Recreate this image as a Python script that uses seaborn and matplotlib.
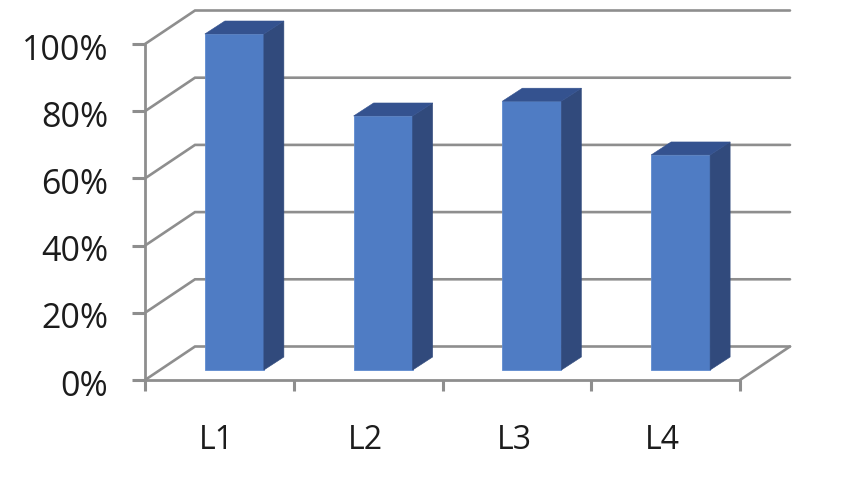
import matplotlib
matplotlib.use("Agg")
import matplotlib.pyplot as plt
from matplotlib.patches import Polygon
from matplotlib.transforms import Affine2D
import seaborn as sns
import pandas as pd

categories = ["L1", "L2", "L3", "L4"]
values = [100, 75.6, 80, 64]
y_ticks = [0, 20, 40, 60, 80, 100]
y_labels = ["0%", "20%", "40%", "60%", "80%", "100%"]

W, H = 843, 482
L, R, B, T = 145, 740, 380, 44
px_x = (R - L) / 4
px_y = (B - T) / 100
WALL_X, WALL_Y = 50 / px_x, 33.5 / px_y
BAR_OFF_X, BAR_OFF_Y = 15 / px_x, 10 / px_y
BAR_DEPTH_X, BAR_DEPTH_Y = 20 / px_x, 13 / px_y
BAR_W = 59 / px_x
GREY = "#8e8e8e"
FRONT, SIDE, TOP = "#4f7cc4", "#314a7c", "#34528f"

sns.set_theme(style="white")
plt.rcParams["font.family"] = ["Open Sans", "DejaVu Sans"]

fig = plt.figure(figsize=(W / 100, H / 100), dpi=100, facecolor="white")
ax = fig.add_axes([L / W, 1 - B / H, (R - L) / W, (B - T) / H])
ax.patch.set_visible(False)

df = pd.DataFrame({"level": categories, "share": values})
sns.barplot(data=df, x="level", y="share", color=FRONT, saturation=1, width=BAR_W, ax=ax, zorder=3)
shift = Affine2D().translate(BAR_OFF_X, BAR_OFF_Y) + ax.transData
for p in ax.patches:
    p.set_transform(shift)
    p.set_clip_on(False)
    p.set_edgecolor("#5f8bd0")
    p.set_linewidth(0.6)

ax.set_xlim(-0.5, 3.5)
ax.set_ylim(0, 100)

for i, v in enumerate(values):
    xl = i - BAR_W / 2
    xr = i + BAR_W / 2
    side = [(xr, 0), (xr + BAR_DEPTH_X, BAR_DEPTH_Y), (xr + BAR_DEPTH_X, v + BAR_DEPTH_Y), (xr, v)]
    top = [(xl, v), (xl + BAR_DEPTH_X, v + BAR_DEPTH_Y), (xr + BAR_DEPTH_X, v + BAR_DEPTH_Y), (xr, v)]
    ax.add_patch(Polygon(side, closed=True, fc=SIDE, ec=SIDE, lw=0.4, transform=shift, clip_on=False, zorder=3))
    ax.add_patch(Polygon(top, closed=True, fc=TOP, ec=TOP, lw=0.4, transform=shift, clip_on=False, zorder=3))

for y in y_ticks:
    ax.plot([-0.5, -0.5 + WALL_X, 3.5 + WALL_X], [y, y + WALL_Y, y + WALL_Y],
            color=GREY, lw=1.9, clip_on=False, zorder=1, solid_joinstyle="miter")
ax.plot([3.5, 3.5 + WALL_X], [0, WALL_Y], color=GREY, lw=1.9, clip_on=False, zorder=1)

for s in ("top", "right"):
    ax.spines[s].set_visible(False)
for s in ("left", "bottom"):
    ax.spines[s].set_color(GREY)
    ax.spines[s].set_linewidth(2.0)

ax.set_yticks(y_ticks)
ax.set_yticklabels(y_labels, fontsize=24.5, color="#1c1c1c")
ax.set_xticks([-0.5, 0.5, 1.5, 2.5, 3.5])
ax.set_xticklabels([])
ax.set_xticks([0, 1, 2, 3], minor=True)
ax.set_xticklabels(categories, minor=True, fontsize=23, color="#1c1c1c")
ax.tick_params(axis="y", which="major", left=True, length=9.5, width=2.2, color=GREY, pad=17)
ax.tick_params(axis="x", which="major", bottom=True, length=8, width=2.2, color=GREY)
ax.tick_params(axis="x", which="minor", bottom=False, length=0, pad=32)
ax.set_xlabel("")
ax.set_ylabel("")
for lab in ax.get_xticklabels(minor=True):
    lab.set_transform(lab.get_transform() + Affine2D().translate(-3, 0))
for lab in ax.get_yticklabels():
    lab.set_transform(lab.get_transform() + Affine2D().translate(0, -2.5))

fig.savefig("out.png", dpi=100, facecolor="white")
